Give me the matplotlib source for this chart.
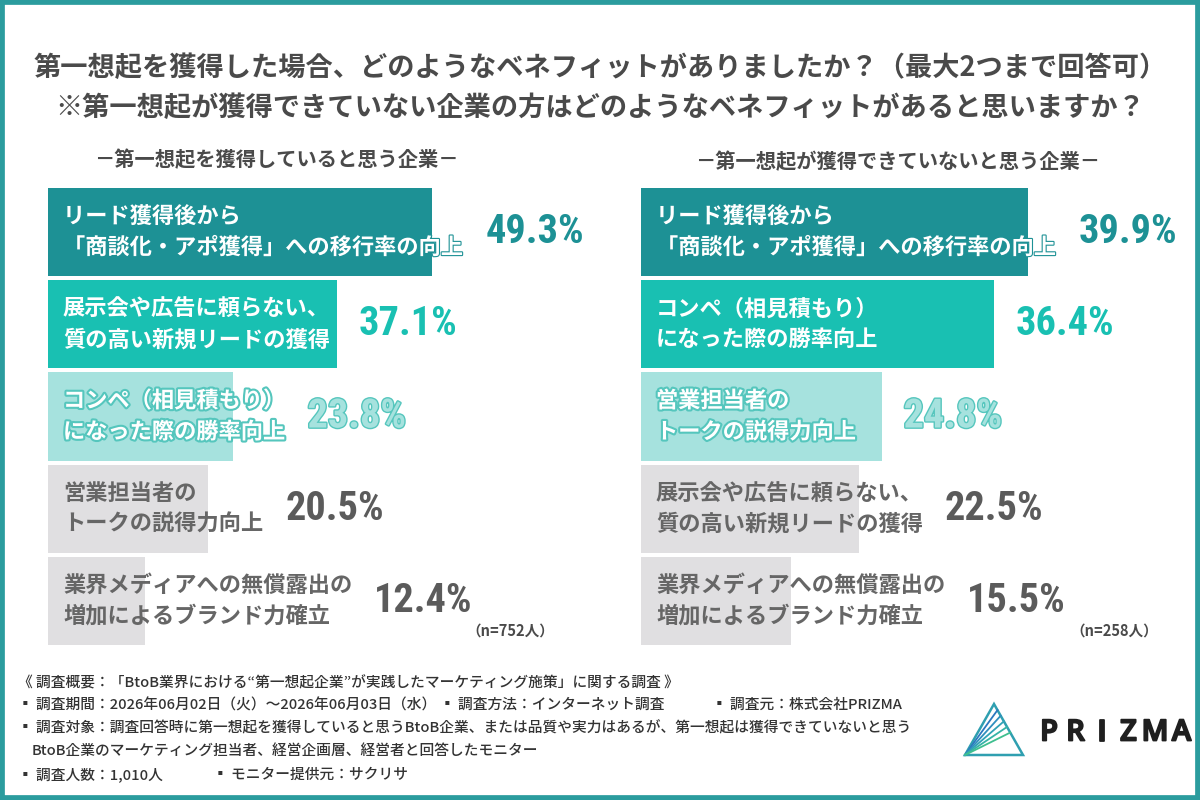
import matplotlib
matplotlib.use("Agg")
import matplotlib.pyplot as plt
from matplotlib import font_manager as fm
from matplotlib.patches import Rectangle, Polygon
import matplotlib.patheffects as pe

# ---------------- data ----------------
title_lines = [
    "第一想起を獲得した場合、どのようなベネフィットがありましたか？（最大2つまで回答可）",
    "※第一想起が獲得できていない企業の方はどのようなベネフィットがあると思いますか？",
]
left_title = "－第一想起を獲得していると思う企業－"
right_title = "－第一想起が獲得できていないと思う企業－"

left_labels = [
    "リード獲得後から\n「商談化・アポ獲得」への移行率の向上",
    "展示会や広告に頼らない、\n質の高い新規リードの獲得",
    "コンペ（相見積もり）\nになった際の勝率向上",
    "営業担当者の\nトークの説得力向上",
    "業界メディアへの無償露出の\n増加によるブランド力確立",
]
left_values = [49.3, 37.1, 23.8, 20.5, 12.4]
left_n = "（n=752人）"

right_labels = [
    "リード獲得後から\n「商談化・アポ獲得」への移行率の向上",
    "コンペ（相見積もり）\nになった際の勝率向上",
    "営業担当者の\nトークの説得力向上",
    "展示会や広告に頼らない、\n質の高い新規リードの獲得",
    "業界メディアへの無償露出の\n増加によるブランド力確立",
]
right_values = [39.9, 36.4, 24.8, 22.5, 15.5]
right_n = "（n=258人）"

footnotes = [
    "《 調査概要：「BtoB業界における“第一想起企業”が実践したマーケティング施策」に関する調査 》",
    "▪ 調査期間：2026年06月02日（火）～2026年06月03日（水）",
    "▪ 調査方法：インターネット調査",
    "▪ 調査元：株式会社PRIZMA",
    "▪ 調査対象：調査回答時に第一想起を獲得していると思うBtoB企業、または品質や実力はあるが、第一想起は獲得できていないと思う",
    "BtoB企業のマーケティング担当者、経営企画層、経営者と回答したモニター",
    "▪ 調査人数：1,010人",
    "▪ モニター提供元：サクリサ",
]
brand = "PRIZMA"

# ---------------- style ----------------
W, H = 1200, 800
CJK = "Noto Sans CJK JP"
available = {f.name for f in fm.fontManager.ttflist}
plt.rcParams["font.family"] = [CJK, "DejaVu Sans"]

num_prop = fm.FontProperties(family="DejaVu Sans", stretch="condensed", weight="bold",
                             size=29)
for cand in ["Liberation Sans Narrow", "Roboto Condensed", "Open Sans Condensed"]:
    if cand in available:
        num_prop = fm.FontProperties(family=cand, weight="bold", size=29)
        break

bar_colors = ["#1d9195", "#19c0b2", "#a6e2de", "#e0dfe1", "#e0dfe1"]
pct_colors = ["#1d9195", "#19c0b2", "#a6e2de", "#5b5b5b", "#5b5b5b"]
label_colors = ["white", "white", "white", "#666666", "#666666"]
label_strokes = ["#1d9195", None, "#55c6bd", None, None]
TEXT_GREY = "#4a4a4a"
FRAME = "#2b9c9e"
OUTLINE = "#55c6bd"


def fx(x):
    return x / W


def fy(y):
    return 1 - y / H


fig = plt.figure(figsize=(12, 8), dpi=100)
fig.patch.set_facecolor("white")

fig.patches.append(Rectangle((0, 0), 1, 1, transform=fig.transFigure, fill=False,
                             edgecolor=FRAME, linewidth=7, zorder=10))

for line, y in zip(title_lines, [68, 108]):
    fig.text(fx(600), fy(y), line, ha="center", va="center", fontsize=19.6,
             fontweight="bold", color=TEXT_GREY)
fig.text(fx(276), fy(160), left_title, ha="center", va="center", fontsize=14.6,
         fontweight="bold", color=TEXT_GREY)
fig.text(fx(898), fy(162), right_title, ha="center", va="center", fontsize=14.6,
         fontweight="bold", color=TEXT_GREY)

renderer = fig.canvas.get_renderer()

ax_top, ax_bot = 186, 647


def panel(x0, width, px_per_pct, labels, values, ntext, nx):
    ax = fig.add_axes([fx(x0), fy(ax_bot), width / W, (ax_bot - ax_top) / H])
    ax.set_xlim(0, width / px_per_pct)
    ax.set_ylim(len(values) - 0.5, -0.5)
    ax.axis("off")
    ys = list(range(len(values)))
    ax.barh(ys, values, height=0.955, color=bar_colors, linewidth=0)
    for i, (lab, v) in enumerate(zip(labels, values)):
        effects = None
        if label_strokes[i]:
            lw = 3 if i == 2 else 1.6
            effects = [pe.withStroke(linewidth=lw, foreground=label_strokes[i])]
        t = ax.annotate(lab, xy=(0, i), xytext=(15, 0), textcoords="offset pixels",
                        ha="left", va="center", fontsize=16, fontweight="bold",
                        color=label_colors[i], linespacing=1.45,
                        path_effects=effects, zorder=5)
        lab_end = t.get_window_extent(renderer).x1
        bar_end = ax.transData.transform((v, i))[0]
        off = max(0, lab_end - bar_end) + 22
        peff = None
        if i == 2:
            peff = [pe.withStroke(linewidth=2, foreground=OUTLINE)]
        ax.annotate(f"{v:.1f}%", xy=(v, i), xytext=(off, 0), textcoords="offset pixels",
                    ha="left", va="center", fontproperties=num_prop,
                    color=pct_colors[i], path_effects=peff, zorder=5)
    fig.text(fx(nx), fy(631), ntext, ha="left", va="center", fontsize=10.5,
             fontweight="bold", color=TEXT_GREY)
    return ax


panel(48, 552, 7.79, left_labels, left_values, left_n, 466)
panel(641, 549, 9.70, right_labels, right_values, right_n, 1070)

fn_pos = [(18, 683), (18, 705), (440, 705), (712, 705), (18, 728), (32, 751),
          (18, 775), (213, 775)]
for txt, (x, y) in zip(footnotes, fn_pos):
    fig.text(fx(x), fy(y), txt, ha="left", va="center", fontsize=10.6,
             fontweight="medium", color="#333333")

# logo
apex = (994, 704)
bl = (965, 755)
br = (1023, 755)
fig.patches.append(Polygon([(fx(apex[0]), fy(apex[1])), (fx(bl[0]), fy(bl[1])),
                            (fx(br[0]), fy(br[1]))],
                           closed=True, fill=False, transform=fig.transFigure,
                           edgecolor="#2f9fb0", linewidth=1.8))
fan_cols = ["#2b78bf", "#2f8fbe", "#31a2b6", "#36b3a6", "#3fbf8f"]
for k, c in enumerate(fan_cols):
    t = 0.12 + k * 0.11
    px = apex[0] + (br[0] - apex[0]) * t
    py = apex[1] + (br[1] - apex[1]) * t
    fig.add_artist(plt.Line2D([fx(bl[0]), fx(px)], [fy(bl[1]), fy(py)],
                              transform=fig.transFigure, color=c, linewidth=1.3))
for k, ch in enumerate(brand):
    fig.text(fx(1049 + k * 26.5), fy(733), ch, ha="center", va="center", fontsize=21,
             family="Open Sans", fontweight="semibold", color="#1f1f1f",
             path_effects=[pe.withStroke(linewidth=1.3, foreground="#1f1f1f")])

fig.savefig("out.png", dpi=100, facecolor="white")
